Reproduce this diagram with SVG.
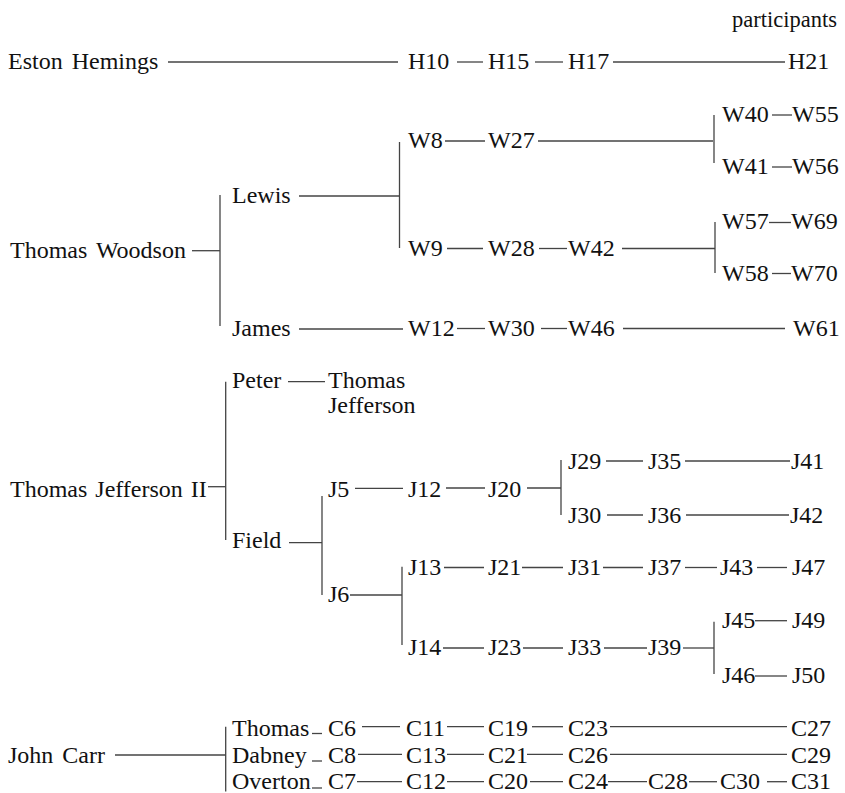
<svg xmlns="http://www.w3.org/2000/svg" width="845" height="793" viewBox="0 0 845 793">
<rect width="845" height="793" fill="#fff"/>
<g id="connectors" stroke="#444" stroke-width="1.3">
<line x1="168" y1="62" x2="398" y2="62"/>
<line x1="457" y1="62" x2="483" y2="62"/>
<line x1="535" y1="62" x2="563" y2="62"/>
<line x1="613" y1="62" x2="785" y2="62"/>
<line x1="192" y1="250.7" x2="220" y2="250.7"/>
<line x1="220" y1="195" x2="220" y2="326"/>
<line x1="299" y1="196" x2="399" y2="196"/>
<line x1="399.5" y1="142" x2="399.5" y2="248"/>
<line x1="445" y1="141" x2="485" y2="141"/>
<line x1="538" y1="141" x2="713" y2="141"/>
<line x1="714" y1="115" x2="714" y2="163"/>
<line x1="772" y1="115" x2="792" y2="115"/>
<line x1="772" y1="167" x2="792" y2="167"/>
<line x1="447" y1="248.5" x2="483" y2="248.5"/>
<line x1="539" y1="248.5" x2="567" y2="248.5"/>
<line x1="622" y1="248.5" x2="715" y2="248.5"/>
<line x1="715" y1="222" x2="715" y2="273"/>
<line x1="769" y1="222.5" x2="791" y2="222.5"/>
<line x1="772" y1="273.5" x2="791" y2="273.5"/>
<line x1="299" y1="329" x2="403" y2="329"/>
<line x1="457" y1="328.5" x2="485" y2="328.5"/>
<line x1="541" y1="328.5" x2="567" y2="328.5"/>
<line x1="623" y1="328.5" x2="785" y2="328.5"/>
<line x1="208" y1="486.7" x2="225.7" y2="486.7"/>
<line x1="225.7" y1="381.7" x2="225.7" y2="540"/>
<line x1="288" y1="381.7" x2="325" y2="381.7"/>
<line x1="289" y1="542.7" x2="322" y2="542.7"/>
<line x1="322" y1="496" x2="322" y2="595"/>
<line x1="355" y1="488.3" x2="403" y2="488.3"/>
<line x1="446" y1="488" x2="485" y2="488"/>
<line x1="527" y1="488" x2="561" y2="488"/>
<line x1="561" y1="460" x2="561" y2="515"/>
<line x1="606" y1="461" x2="643" y2="461"/>
<line x1="685" y1="461" x2="790" y2="461"/>
<line x1="607" y1="515" x2="643" y2="515"/>
<line x1="686" y1="515" x2="789" y2="515"/>
<line x1="350" y1="595" x2="402" y2="595"/>
<line x1="402" y1="566.7" x2="402" y2="645"/>
<line x1="444" y1="567.5" x2="484" y2="567.5"/>
<line x1="522" y1="567.5" x2="563" y2="567.5"/>
<line x1="603" y1="567.5" x2="643" y2="567.5"/>
<line x1="685" y1="567.5" x2="717" y2="567.5"/>
<line x1="757" y1="567.5" x2="787" y2="567.5"/>
<line x1="443" y1="648" x2="484" y2="648"/>
<line x1="523" y1="648" x2="563" y2="648"/>
<line x1="604" y1="648" x2="647" y2="648"/>
<line x1="683" y1="648" x2="714" y2="648"/>
<line x1="714" y1="621.7" x2="714" y2="674"/>
<line x1="755" y1="620.7" x2="787" y2="620.7"/>
<line x1="755" y1="676" x2="787" y2="676"/>
<line x1="115" y1="755" x2="225.7" y2="755"/>
<line x1="225.7" y1="726.7" x2="225.7" y2="791.5"/>
<line x1="312" y1="733.5" x2="322" y2="733.5"/>
<line x1="312" y1="761" x2="322" y2="761"/>
<line x1="312" y1="788" x2="322" y2="788"/>
<line x1="362" y1="726.7" x2="400" y2="726.7"/>
<line x1="447" y1="726.7" x2="484" y2="726.7"/>
<line x1="532" y1="726.7" x2="563" y2="726.7"/>
<line x1="610" y1="726.7" x2="787" y2="726.7"/>
<line x1="358" y1="754.3" x2="402" y2="754.3"/>
<line x1="447" y1="754.3" x2="484" y2="754.3"/>
<line x1="527" y1="754.3" x2="563" y2="754.3"/>
<line x1="610" y1="754.3" x2="787" y2="754.3"/>
<line x1="357" y1="781.7" x2="402" y2="781.7"/>
<line x1="447" y1="781.7" x2="484" y2="781.7"/>
<line x1="530" y1="781.7" x2="563" y2="781.7"/>
<line x1="608" y1="781.7" x2="647" y2="781.7"/>
<line x1="689" y1="781.7" x2="717" y2="781.7"/>
<line x1="767" y1="781.7" x2="787" y2="781.7"/>
</g>
<g id="nodes" fill="#111">
<g id="header"><text style="font-family:'Liberation Serif',serif;font-size:22.5px" x="837" y="27" text-anchor="end">participants</text></g>
<g id="eston"><text style="font-family:'Liberation Serif',serif;font-size:24px;word-spacing:3px" x="8" y="69">Eston Hemings</text></g>
<g id="H10"><text style="font-family:'Liberation Serif',serif;font-size:24px" x="408" y="69">H10</text></g>
<g id="H15"><text style="font-family:'Liberation Serif',serif;font-size:24px" x="488" y="69">H15</text></g>
<g id="H17"><text style="font-family:'Liberation Serif',serif;font-size:24px" x="568" y="69">H17</text></g>
<g id="H21"><text style="font-family:'Liberation Serif',serif;font-size:24px" x="788" y="69">H21</text></g>
<g id="woodson"><text style="font-family:'Liberation Serif',serif;font-size:24px;word-spacing:3px" x="10" y="257.5">Thomas Woodson</text></g>
<g id="lewis"><text style="font-family:'Liberation Serif',serif;font-size:24px" x="232" y="203">Lewis</text></g>
<g id="W8"><text style="font-family:'Liberation Serif',serif;font-size:24px" x="408" y="148">W8</text></g>
<g id="W27"><text style="font-family:'Liberation Serif',serif;font-size:24px" x="488" y="148">W27</text></g>
<g id="W40"><text style="font-family:'Liberation Serif',serif;font-size:24px" x="722" y="122">W40</text></g>
<g id="W55"><text style="font-family:'Liberation Serif',serif;font-size:24px" x="792" y="122">W55</text></g>
<g id="W41"><text style="font-family:'Liberation Serif',serif;font-size:24px" x="722" y="174">W41</text></g>
<g id="W56"><text style="font-family:'Liberation Serif',serif;font-size:24px" x="792" y="174">W56</text></g>
<g id="W9"><text style="font-family:'Liberation Serif',serif;font-size:24px" x="408" y="256">W9</text></g>
<g id="W28"><text style="font-family:'Liberation Serif',serif;font-size:24px" x="488" y="256">W28</text></g>
<g id="W42"><text style="font-family:'Liberation Serif',serif;font-size:24px" x="568" y="256">W42</text></g>
<g id="W57"><text style="font-family:'Liberation Serif',serif;font-size:24px" x="722" y="229">W57</text></g>
<g id="W69"><text style="font-family:'Liberation Serif',serif;font-size:24px" x="791" y="229">W69</text></g>
<g id="W58"><text style="font-family:'Liberation Serif',serif;font-size:24px" x="722" y="281">W58</text></g>
<g id="W70"><text style="font-family:'Liberation Serif',serif;font-size:24px" x="791" y="281">W70</text></g>
<g id="james"><text style="font-family:'Liberation Serif',serif;font-size:24px" x="232" y="336">James</text></g>
<g id="W12"><text style="font-family:'Liberation Serif',serif;font-size:24px" x="408" y="336">W12</text></g>
<g id="W30"><text style="font-family:'Liberation Serif',serif;font-size:24px" x="488" y="336">W30</text></g>
<g id="W46"><text style="font-family:'Liberation Serif',serif;font-size:24px" x="568" y="336">W46</text></g>
<g id="W61"><text style="font-family:'Liberation Serif',serif;font-size:24px" x="793" y="336">W61</text></g>
<g id="tj2"><text style="font-family:'Liberation Serif',serif;font-size:24px;word-spacing:2px" x="10" y="496.5">Thomas Jefferson II</text></g>
<g id="peter"><text style="font-family:'Liberation Serif',serif;font-size:24px" x="232" y="388">Peter</text></g>
<g id="tj"><text style="font-family:'Liberation Serif',serif;font-size:24px" x="328" y="388">Thomas</text><text style="font-family:'Liberation Serif',serif;font-size:24px" x="328" y="413">Jefferson</text></g>
<g id="field"><text style="font-family:'Liberation Serif',serif;font-size:24px" x="232" y="548">Field</text></g>
<g id="J5"><text style="font-family:'Liberation Serif',serif;font-size:24px" x="328" y="496.5">J5</text></g>
<g id="J12"><text style="font-family:'Liberation Serif',serif;font-size:24px" x="408" y="496.5">J12</text></g>
<g id="J20"><text style="font-family:'Liberation Serif',serif;font-size:24px" x="488" y="496.5">J20</text></g>
<g id="J29"><text style="font-family:'Liberation Serif',serif;font-size:24px" x="568" y="469">J29</text></g>
<g id="J35"><text style="font-family:'Liberation Serif',serif;font-size:24px" x="648" y="469">J35</text></g>
<g id="J41"><text style="font-family:'Liberation Serif',serif;font-size:24px" x="791" y="469">J41</text></g>
<g id="J30"><text style="font-family:'Liberation Serif',serif;font-size:24px" x="568" y="522.5">J30</text></g>
<g id="J36"><text style="font-family:'Liberation Serif',serif;font-size:24px" x="648" y="522.5">J36</text></g>
<g id="J42"><text style="font-family:'Liberation Serif',serif;font-size:24px" x="790" y="522.5">J42</text></g>
<g id="J6"><text style="font-family:'Liberation Serif',serif;font-size:24px" x="328" y="601.5">J6</text></g>
<g id="J13"><text style="font-family:'Liberation Serif',serif;font-size:24px" x="408" y="575">J13</text></g>
<g id="J21"><text style="font-family:'Liberation Serif',serif;font-size:24px" x="488" y="575">J21</text></g>
<g id="J31"><text style="font-family:'Liberation Serif',serif;font-size:24px" x="568" y="575">J31</text></g>
<g id="J37"><text style="font-family:'Liberation Serif',serif;font-size:24px" x="648" y="575">J37</text></g>
<g id="J43"><text style="font-family:'Liberation Serif',serif;font-size:24px" x="720" y="575">J43</text></g>
<g id="J47"><text style="font-family:'Liberation Serif',serif;font-size:24px" x="792" y="575">J47</text></g>
<g id="J14"><text style="font-family:'Liberation Serif',serif;font-size:24px" x="408" y="655">J14</text></g>
<g id="J23"><text style="font-family:'Liberation Serif',serif;font-size:24px" x="488" y="655">J23</text></g>
<g id="J33"><text style="font-family:'Liberation Serif',serif;font-size:24px" x="568" y="655">J33</text></g>
<g id="J39"><text style="font-family:'Liberation Serif',serif;font-size:24px" x="648" y="655">J39</text></g>
<g id="J45"><text style="font-family:'Liberation Serif',serif;font-size:24px" x="722" y="628">J45</text></g>
<g id="J49"><text style="font-family:'Liberation Serif',serif;font-size:24px" x="792" y="628">J49</text></g>
<g id="J46"><text style="font-family:'Liberation Serif',serif;font-size:24px" x="722" y="682.5">J46</text></g>
<g id="J50"><text style="font-family:'Liberation Serif',serif;font-size:24px" x="792" y="682.5">J50</text></g>
<g id="carr"><text style="font-family:'Liberation Serif',serif;font-size:24px;word-spacing:3px" x="8" y="763">John Carr</text></g>
<g id="thomasC"><text style="font-family:'Liberation Serif',serif;font-size:24px" x="232" y="735.5">Thomas</text></g>
<g id="dabney"><text style="font-family:'Liberation Serif',serif;font-size:24px" x="232" y="762.5">Dabney</text></g>
<g id="overton"><text style="font-family:'Liberation Serif',serif;font-size:24px" x="232" y="789">Overton</text></g>
<g id="C6"><text style="font-family:'Liberation Serif',serif;font-size:24px" x="328" y="735.5">C6</text></g>
<g id="C11"><text style="font-family:'Liberation Serif',serif;font-size:24px" x="406" y="735.5">C11</text></g>
<g id="C19"><text style="font-family:'Liberation Serif',serif;font-size:24px" x="488" y="735.5">C19</text></g>
<g id="C23"><text style="font-family:'Liberation Serif',serif;font-size:24px" x="568" y="735.5">C23</text></g>
<g id="C27"><text style="font-family:'Liberation Serif',serif;font-size:24px" x="791" y="735.5">C27</text></g>
<g id="C8"><text style="font-family:'Liberation Serif',serif;font-size:24px" x="328" y="762.5">C8</text></g>
<g id="C13"><text style="font-family:'Liberation Serif',serif;font-size:24px" x="406" y="762.5">C13</text></g>
<g id="C21"><text style="font-family:'Liberation Serif',serif;font-size:24px" x="488" y="762.5">C21</text></g>
<g id="C26"><text style="font-family:'Liberation Serif',serif;font-size:24px" x="568" y="762.5">C26</text></g>
<g id="C29"><text style="font-family:'Liberation Serif',serif;font-size:24px" x="791" y="762.5">C29</text></g>
<g id="C7"><text style="font-family:'Liberation Serif',serif;font-size:24px" x="328" y="789">C7</text></g>
<g id="C12"><text style="font-family:'Liberation Serif',serif;font-size:24px" x="406" y="789">C12</text></g>
<g id="C20"><text style="font-family:'Liberation Serif',serif;font-size:24px" x="488" y="789">C20</text></g>
<g id="C24"><text style="font-family:'Liberation Serif',serif;font-size:24px" x="568" y="789">C24</text></g>
<g id="C28"><text style="font-family:'Liberation Serif',serif;font-size:24px" x="648" y="789">C28</text></g>
<g id="C30"><text style="font-family:'Liberation Serif',serif;font-size:24px" x="720" y="789">C30</text></g>
<g id="C31"><text style="font-family:'Liberation Serif',serif;font-size:24px" x="791" y="789">C31</text></g>
</g>
</svg>
